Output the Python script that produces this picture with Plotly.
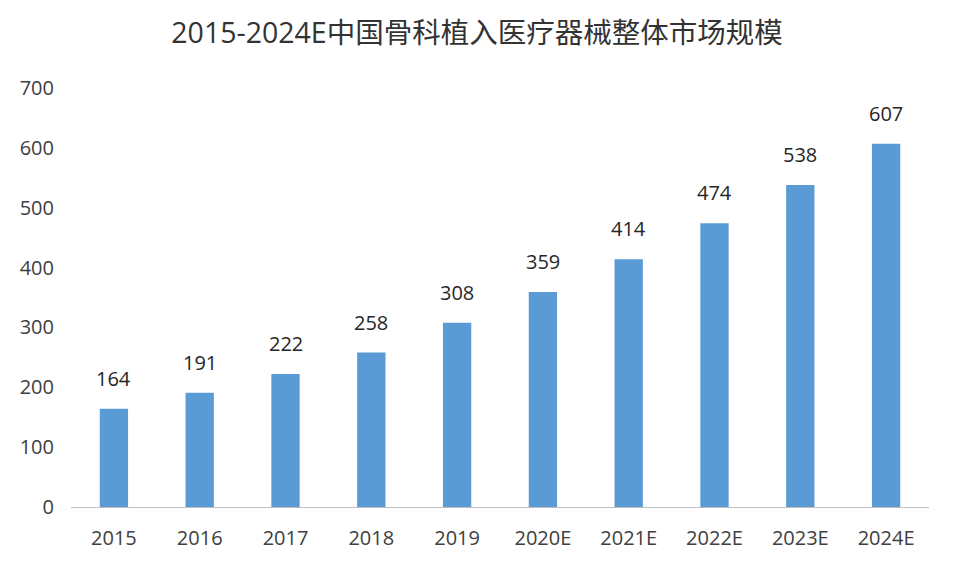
import plotly.graph_objects as go

years = ["2015", "2016", "2017", "2018", "2019", "2020E", "2021E", "2022E", "2023E", "2024E"]
values = [164, 191, 222, 258, 308, 359, 414, 474, 538, 607]
title = "2015-2024E中国骨科植入医疗器械整体市场规模"

font_family = "Open Sans, Noto Sans CJK SC, sans-serif"

fig = go.Figure(go.Bar(
    x=years, y=values,
    marker=dict(color="#5B9BD5", line=dict(width=0)),
    width=0.33,
))

for i, v in enumerate(values):
    fig.add_annotation(x=i, y=v, xref="x", yref="y", text=str(v), showarrow=False,
                       yanchor="bottom", yshift=15,
                       font=dict(size=20, color="#262626", family=font_family))

fig.update_layout(
    width=956, height=568,
    margin=dict(l=63, r=35, t=80, b=69),
    paper_bgcolor="white", plot_bgcolor="white",
    title=dict(text=title, x=0.4906, xanchor="center", y=0.956, yanchor="middle",
               font=dict(size=28.5, color="#333333", family=font_family)),
    showlegend=False,
    xaxis=dict(type="category", range=[-0.5, len(years) - 0.5],
               showline=True, linecolor="#BFBFBF", linewidth=1, ticks="",
               tickfont=dict(size=20, color="#404040", family=font_family),
               ticklabelstandoff=13, showgrid=False),
    yaxis=dict(range=[0, 700], dtick=100, showgrid=False, zeroline=False,
               showline=False, ticks="", ticklabelstandoff=16,
               tickfont=dict(size=20, color="#404040", family=font_family)),
)

fig.write_html("out.html")
